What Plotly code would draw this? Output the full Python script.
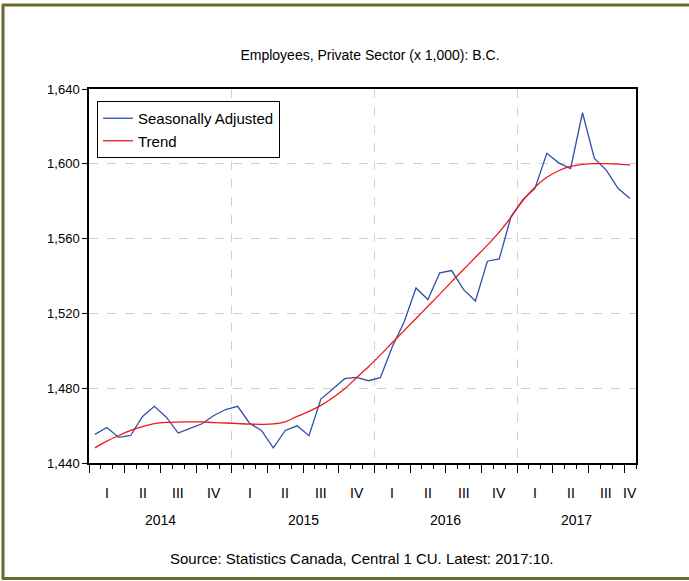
import plotly.graph_objects as go

# ---- data (monthly, Jan 2014 .. Oct 2017) ----
months = list(range(46))
seasonally_adjusted = [
    1455.3, 1459.0, 1453.7, 1454.7, 1464.9, 1470.3, 1464.5, 1456.0, 1458.5, 1461.0, 1465.4, 1468.6,
    1470.3, 1461.3, 1457.4, 1448.1, 1457.4, 1459.9, 1454.6, 1474.2, 1479.6, 1485.1, 1485.8, 1484.0,
    1485.6, 1502.0, 1515.4, 1533.6, 1527.4, 1541.7, 1542.9, 1532.7, 1526.6, 1547.9, 1549.1, 1572.0,
    1580.9, 1586.8, 1605.6, 1600.5, 1597.5, 1627.3, 1602.9, 1596.6, 1586.8, 1581.5,
]
trend = [
    1448.1, 1451.7, 1454.7, 1457.4, 1459.5, 1461.0, 1461.7, 1461.9, 1462.0, 1462.0, 1461.6, 1461.4,
    1461.1, 1460.8, 1460.7, 1460.9, 1462.0, 1464.9, 1467.6, 1470.8, 1474.9, 1479.7, 1485.6, 1491.5,
    1497.8, 1504.3, 1510.8, 1517.3, 1523.8, 1530.3, 1537.0, 1543.5, 1550.0, 1556.5, 1563.5, 1571.5,
    1580.5, 1587.5, 1592.8, 1596.3, 1598.6, 1599.7, 1600.1, 1600.1, 1599.8, 1599.3,
]
quarter_labels = ["I", "II", "III", "IV"] * 4
years = ["2014", "2015", "2016", "2017"]
y_ticks = [1440, 1480, 1520, 1560, 1600, 1640]

n = len(months)
x_mid = [m + 0.5 for m in months]
# label each quarter at the centre of the months present in the data
quarter_centers = [(3 * q + min(3 * q + 3, n)) / 2 for q in range(len(quarter_labels))]
year_centers = [(12 * i + min(12 * (i + 1), n)) / 2 for i in range(len(years))]
year_bounds = [12 * i for i in range(1, len(years))]

# ---- layout geometry ----
W, H = 689, 581
L, R, T, B = 89, 53, 89, 118
pw, ph = W - L - R, H - T - B


def px(x):
    return (x - L) / pw


def py(y):
    return 1 - (y - T) / ph


FONT = "Liberation Sans, Arial, sans-serif"

fig = go.Figure()
fig.add_trace(go.Scatter(x=x_mid, y=seasonally_adjusted, mode="lines", name="Seasonally Adjusted",
                         line=dict(color="#3050a8", width=1.3)))
fig.add_trace(go.Scatter(x=x_mid, y=trend, mode="lines", name="Trend",
                         line=dict(color="#f01818", width=1.3, shape="spline")))

fig.update_layout(
    width=W, height=H,
    margin=dict(l=L, r=R, t=T, b=B),
    paper_bgcolor="white", plot_bgcolor="white",
    font=dict(family=FONT, size=13, color="black"),
    title=dict(text="Employees, Private Sector (x 1,000): B.C.", x=px(370), xref="paper",
               xanchor="center", y=1 - 55 / H, yanchor="middle",
               font=dict(family=FONT, size=14, color="black")),
    showlegend=True,
    legend=dict(x=px(97), y=py(101), xanchor="left", yanchor="top",
                bgcolor="white", bordercolor="black", borderwidth=1,
                font=dict(family=FONT, size=15, color="black"),
                tracegroupgap=0, itemwidth=30),
    xaxis=dict(range=[0, n], tickmode="array", tickvals=[3 * q for q in range(len(quarter_labels))],
               ticks="outside", ticklen=8, tickcolor="black", showticklabels=False,
               showgrid=False, zeroline=False,
               showline=True, linecolor="black", linewidth=1.5, mirror=True,
               minor=dict(tickmode="linear", tick0=0, dtick=1, ticks="outside", ticklen=4,
                          tickcolor="black", showgrid=False)),
    xaxis2=dict(range=[0, n], overlaying="x", tickmode="array", tickvals=year_bounds,
                ticks="", showticklabels=False, showgrid=True, gridcolor="#d0d0d0",
                griddash="dash", gridwidth=1, zeroline=False, showline=False),
    yaxis=dict(range=[y_ticks[0], y_ticks[-1]], tickmode="array", tickvals=y_ticks,
               tickformat=",", ticks="outside", ticklen=5, tickcolor="black",
               showgrid=True, gridcolor="#d0d0d0", griddash="dash", gridwidth=1,
               zeroline=False, showline=True, linecolor="black", linewidth=1.5, mirror=True,
               tickfont=dict(family=FONT, size=13, color="black")),
)

# invisible trace to activate xaxis2 grid
fig.add_trace(go.Scatter(x=[0, n], y=[y_ticks[0], y_ticks[0]], xaxis="x2", mode="lines",
                         line=dict(width=0), showlegend=False, hoverinfo="skip"))

annotations = []
for xc, lab in zip(quarter_centers, quarter_labels):
    annotations.append(dict(x=xc, xref="x", y=py(493), yref="paper", text=lab, showarrow=False,
                            font=dict(family=FONT, size=14, color="black"),
                            xanchor="center", yanchor="middle"))
for xc, lab in zip(year_centers, years):
    annotations.append(dict(x=xc, xref="x", y=py(520), yref="paper", text=lab, showarrow=False,
                            font=dict(family=FONT, size=14, color="black"),
                            xanchor="center", yanchor="middle"))
annotations.append(dict(x=px(362), xref="paper", y=py(558), yref="paper",
                        text="Source: Statistics Canada, Central 1 CU. Latest: 2017:10.",
                        showarrow=False, font=dict(family=FONT, size=15, color="black"),
                        xanchor="center", yanchor="middle"))
fig.update_layout(annotations=annotations)

border = "#6b6b2b"
fig.update_layout(shapes=[
    dict(type="line", xref="paper", yref="paper", x0=px(2), x1=px(W + 2), y0=py(5), y1=py(5),
         line=dict(color=border, width=3)),
    dict(type="line", xref="paper", yref="paper", x0=px(3), x1=px(3), y0=py(4), y1=py(579),
         line=dict(color=border, width=3)),
    dict(type="line", xref="paper", yref="paper", x0=px(2), x1=px(W + 2), y0=py(578.5), y1=py(578.5),
         line=dict(color=border, width=3)),
])

fig.write_html("out.html", config={"displayModeBar": False},
               post_script="document.body.style.margin='0';document.body.style.overflow='hidden';")
